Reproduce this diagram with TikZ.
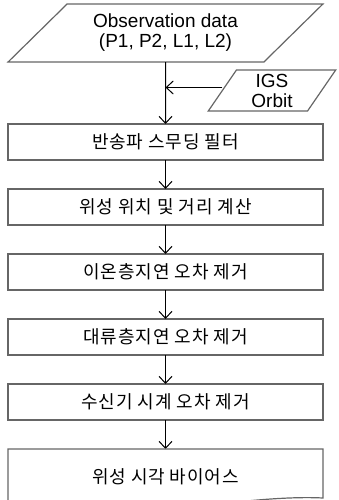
\documentclass[tikz,border=0pt]{standalone}
\usepackage{fontspec}
\setmainfont{Noto Sans CJK KR}[LetterSpace=5]
\newfontfamily\latinfont{Liberation Sans}
\usetikzlibrary{positioning}
\usetikzlibrary{shapes.geometric}
\usetikzlibrary{arrows.meta}

\begin{document}
\begin{tikzpicture}[
x=1pt, y=-1pt,
font=\fontsize{18pt}{20pt}\selectfont,
datanode/.style={trapezium, trapezium stretches=true, draw=black!60, line width=1.2pt, align=center, inner sep=0pt, outer sep=0pt, font=\latinfont\fontsize{19pt}{20pt}\selectfont},
stepbox/.style={rectangle, draw=black!60, line width=1.2pt, minimum width=315pt, minimum height=36pt, inner sep=0pt, outer sep=0pt},
flow/.style={-{Straight Barb[length=7pt, width=13pt]}, line width=1pt},
]
\useasboundingbox (0,0) rectangle (339,500);
\clip (0,0) rectangle (339,500);

%Nodes
\node[datanode, trapezium left angle=41, trapezium right angle=139, minimum width=315pt, minimum height=58pt] (obs) at (165.5,33) {Observation data\\(P1, P2, L1, L2)};
\node[datanode, trapezium left angle=64, trapezium right angle=116, minimum width=128pt, minimum height=41pt] (igs) at (272,90.5) {IGS\\Orbit};
\node[stepbox] (filter) at (165.5,142)  {반송파 스무딩 필터};
\node[stepbox] (satpos) [below=29pt of filter] {위성 위치 및 거리 계산};
\node[stepbox] (iono)   [below=29pt of satpos] {이온층지연 오차 제거};
\node[stepbox] (tropo)  [below=29pt of iono]   {대류층지연 오차 제거};
\node[stepbox] (clock)  [below=29pt of tropo]  {수신기 시계 오차 제거};
\node[stepbox, draw=none, minimum height=56pt] (bias) [below=29pt of clock] {위성 시각 바이어스};
\coordinate (join) at (obs.south |- igs.west);

%Lines
\draw[flow] (obs.south) -- (filter.north);
\draw[flow] ([yshift=3pt]igs.west) -- ([yshift=3pt]join);
\draw[flow] (filter) -- (satpos);
\draw[flow] (satpos) -- (iono);
\draw[flow] (iono) -- (tropo);
\draw[flow] (tropo) -- (clock);
\draw[flow] (clock) -- (bias);
\draw[draw=black!60, line width=1.2pt] ([yshift=-8pt]bias.south west) -- (bias.north west) -- (bias.north east) -- ([yshift=7pt]bias.south east)
  .. controls +(-80,-4) and +(120,10) .. ([yshift=-8pt]bias.south west);
\end{tikzpicture}
\end{document}
